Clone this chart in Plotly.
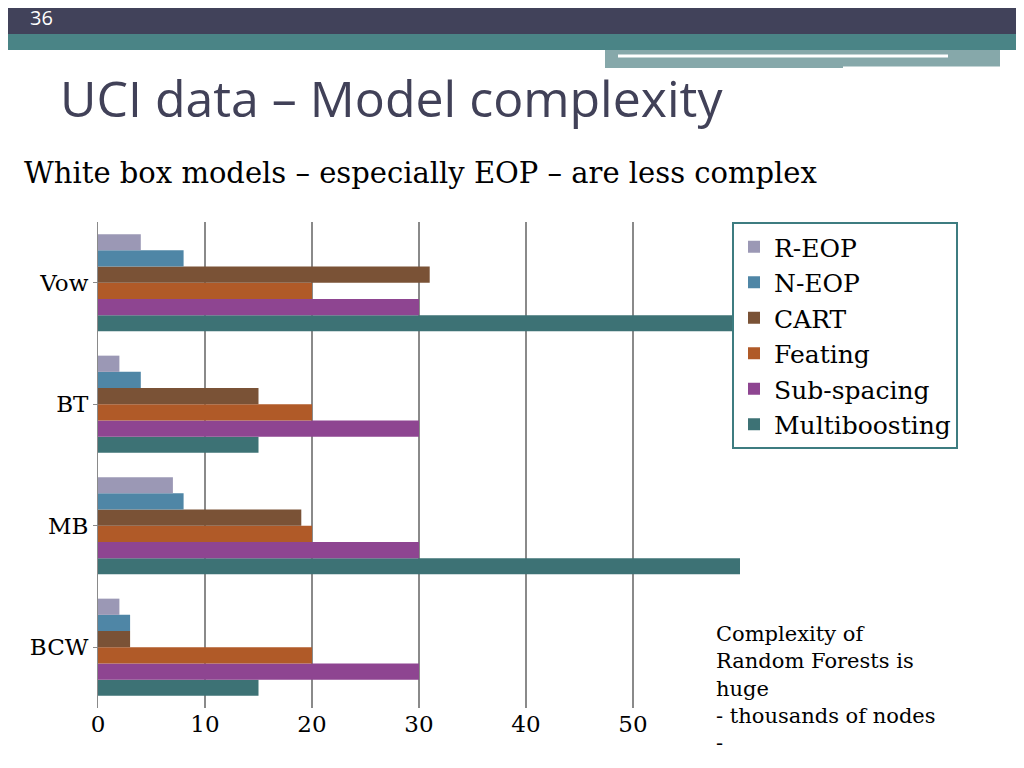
import plotly.graph_objects as go

categories = ['BCW', 'MB', 'BT', 'Vow']
series = ['Multiboosting', 'Sub-spacing', 'Feating', 'CART', 'N-EOP', 'R-EOP']
values = {
    'R-EOP': [2, 7, 2, 4],
    'N-EOP': [3, 8, 4, 8],
    'CART': [3, 19, 15, 31],
    'Feating': [20, 20, 20, 20],
    'Sub-spacing': [30, 30, 30, 30],
    'Multiboosting': [15, 60, 15, 60],
}
colors = {
    'R-EOP': '#9b98b5', 'N-EOP': '#4f86a6', 'CART': '#7a5236',
    'Feating': '#b05a28', 'Sub-spacing': '#8e4591', 'Multiboosting': '#3d7275',
}
x_ticks = [0, 10, 20, 30, 40, 50]

serif = 'DejaVu Serif'

# page pixel -> plot-domain coords (plot spans page x 98..954, y 222..708)
def px(x):
    return (x - 98) / 856

def py(y):
    return (708 - y) / 486

fig = go.Figure()
for s in series:
    fig.add_trace(go.Bar(y=categories, x=values[s], name=s, orientation='h', legendgroup=s,
                         marker=dict(color=colors[s], line_width=0)))

fig.update_layout(
    width=1024, height=768, barmode='group', bargap=0.2, bargroupgap=0,
    plot_bgcolor='white', paper_bgcolor='white',
    margin=dict(l=90, r=78, t=214, b=68),
    font=dict(family=serif, size=23, color='black'),
    legend=dict(x=px(732), y=py(222), xanchor='left', yanchor='top', traceorder='reversed',
                bgcolor='white', bordercolor='#3d7c80', borderwidth=2,
                font=dict(size=25), tracegroupgap=19, itemwidth=30),
    showlegend=True,
)
fig.update_xaxes(range=[0, 80], tickvals=x_ticks, showgrid=True, gridcolor='#8a8a8a',
                 gridwidth=1.5, zeroline=False, showline=False, ticks='', tickfont=dict(size=23))
fig.update_yaxes(showline=True, linecolor='#8a8a8a', ticks='outside', ticklen=4,
                 tickcolor='#8a8a8a', tickfont=dict(size=23))

# slide decorations
shapes = [
    dict(x0=0, x1=1030, y0=-10, y1=34, color='#41425a'),
    dict(x0=0, x1=1030, y0=34, y1=50, color='#4a8486'),
    dict(x0=605, x1=1000, y0=50, y1=68, color='#86a8aa'),
]
for s in shapes:
    fig.add_shape(type='rect', xref='x domain', yref='y domain',
                  x0=px(s['x0']), x1=px(s['x1']), y0=py(s['y1']), y1=py(s['y0']),
                  fillcolor=s['color'], line_width=0, layer='below')
for y, x0, x1 in [(56, 618, 948), (68, 843, 1000)]:
    fig.add_shape(type='line', xref='x domain', yref='y domain',
                  x0=px(x0), x1=px(x1), y0=py(y), y1=py(y),
                  line=dict(color='white', width=3))

fig.add_annotation(text='36', xref='paper', yref='paper', x=px(28), y=py(17),
                   xanchor='left', yanchor='middle', showarrow=False,
                   font=dict(family='Open Sans', size=20, color='white'))
fig.add_annotation(text='UCI data – Model complexity', xref='paper', yref='paper',
                   x=px(58), y=py(98), xanchor='left', yanchor='middle',
                   showarrow=False, font=dict(family='Open Sans', size=50, color='#414158'))
fig.add_annotation(text='White box models – especially EOP – are less complex', xref='paper',
                   yref='paper', x=px(22), y=py(173), xanchor='left',
                   yanchor='middle', showarrow=False, font=dict(family=serif, size=29))
fig.add_annotation(text='Complexity of<br>Random Forests is<br>huge<br>- thousands of nodes<br>-',
                   xref='paper', yref='paper', x=px(714), y=py(620),
                   xanchor='left', yanchor='top', align='left', showarrow=False,
                   bgcolor='white', font=dict(family=serif, size=21))

fig.write_html('out.html')
